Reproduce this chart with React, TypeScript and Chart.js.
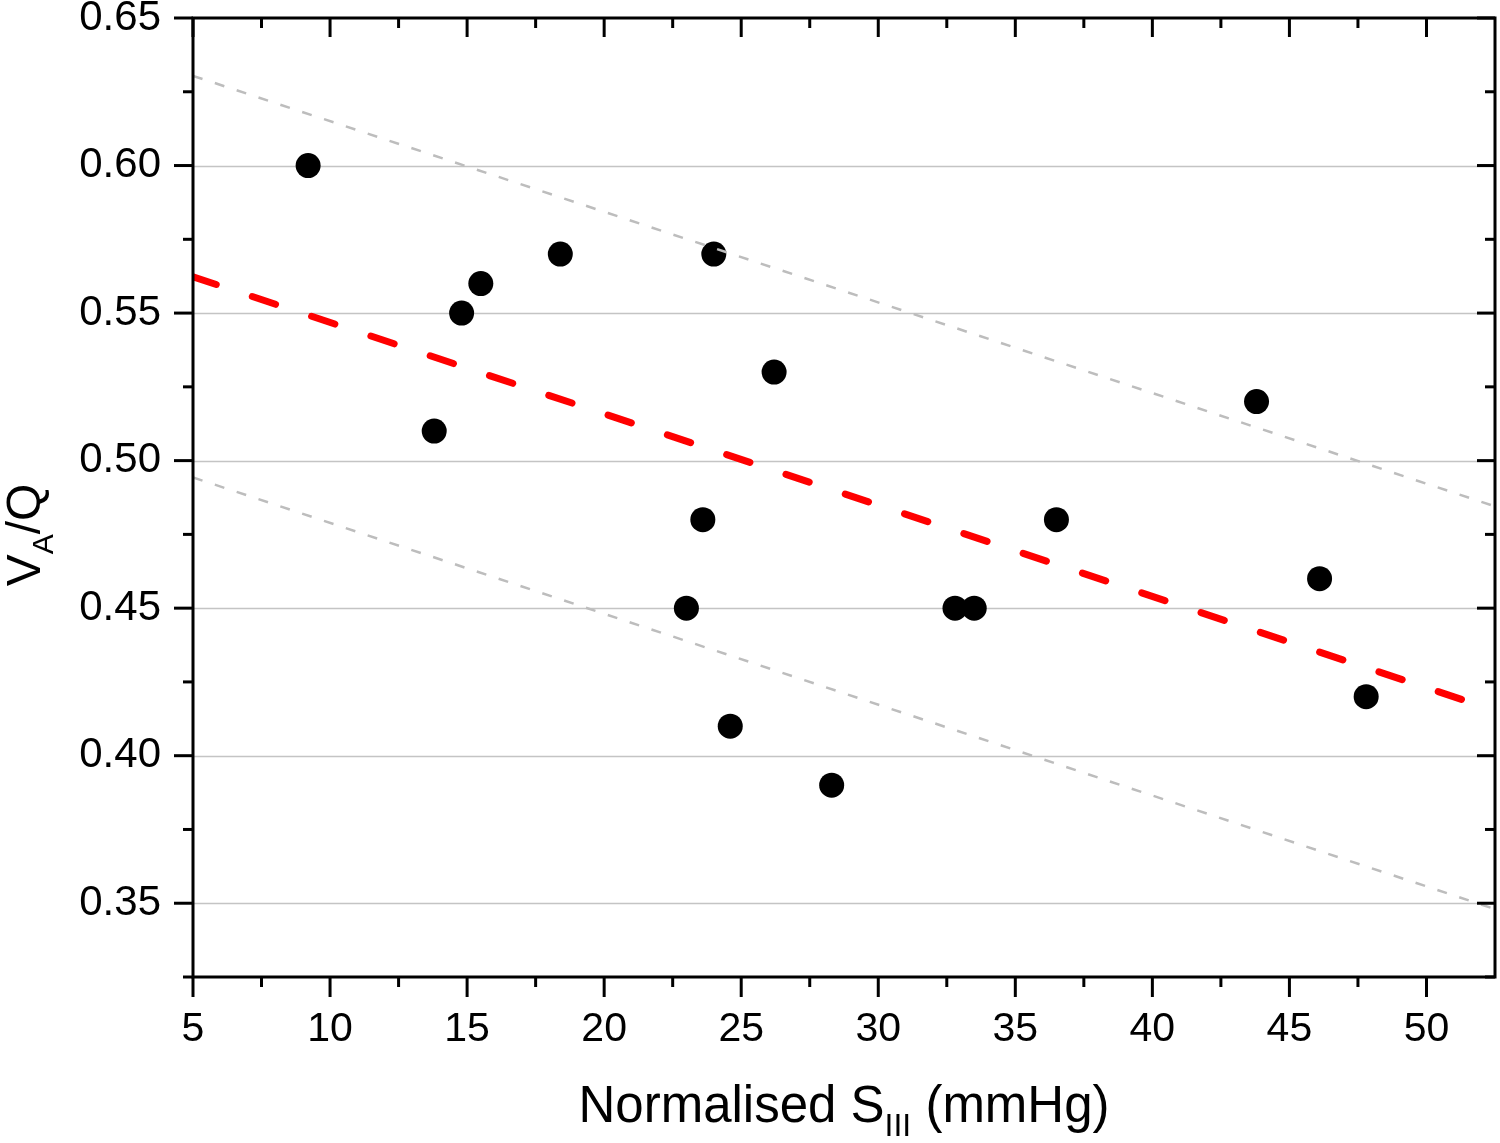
import { useEffect, useRef } from "react";
import { Chart, registerables } from "chart.js";

Chart.register(...registerables);

// measured points
const sIII = [9.2, 13.8, 14.8, 15.5, 18.4, 23.0, 23.6, 24.0, 24.6, 26.2, 28.3, 32.8, 33.5, 36.5, 43.8, 46.1, 47.8];
const vaq = [0.6, 0.51, 0.55, 0.56, 0.57, 0.45, 0.48, 0.57, 0.41, 0.53, 0.39, 0.45, 0.45, 0.48, 0.52, 0.46, 0.42];

// regression line and prediction band ends
const lineX = [5, 52.5];
const fitY = [0.5623, 0.4153];
const upperY = [0.6304, 0.4845];
const lowerY = [0.4943, 0.348];

const xTicks = [5, 10, 15, 20, 25, 30, 35, 40, 45, 50];
const yTicks = [0.35, 0.4, 0.45, 0.5, 0.55, 0.6, 0.65];
const yGrid = [0.35, 0.4, 0.45, 0.5, 0.55, 0.6];

const FONT = '"Liberation Sans", Arial, sans-serif';

type Part = { text: string; sub?: boolean };

const drawRich = (ctx: CanvasRenderingContext2D, parts: Part[], x: number, y: number, size: number) => {
  const subSize = Math.round(size * 0.62);
  let total = 0;
  for (const p of parts) {
    ctx.font = `${p.sub ? subSize : size}px ${FONT}`;
    total += ctx.measureText(p.text).width;
  }
  let cx = x - total / 2;
  ctx.textAlign = "left";
  ctx.textBaseline = "alphabetic";
  ctx.fillStyle = "#000";
  for (const p of parts) {
    ctx.font = `${p.sub ? subSize : size}px ${FONT}`;
    ctx.fillText(p.text, cx, p.sub ? y + size * 0.28 : y);
    cx += ctx.measureText(p.text).width;
  }
};

const framePlugin = {
  id: "frame",
  beforeDatasetsDraw(chart: any) {
    const { ctx, chartArea: a, scales } = chart;
    ctx.save();
    ctx.strokeStyle = "#c4c4c4";
    ctx.lineWidth = 1.5;
    for (const v of yGrid) {
      const y = Math.round(scales.y.getPixelForValue(v)) + 0.5;
      ctx.beginPath();
      ctx.moveTo(a.left, y);
      ctx.lineTo(a.right, y);
      ctx.stroke();
    }
    ctx.restore();
  },
  afterDraw(chart: any) {
    const { ctx, chartArea: a, scales } = chart;
    const xs = scales.x;
    const ys = scales.y;
    ctx.save();
    ctx.strokeStyle = "#000";
    ctx.lineWidth = 3;
    ctx.lineCap = "butt";
    ctx.strokeRect(a.left, a.top, a.right - a.left, a.bottom - a.top);

    const seg = (x1: number, y1: number, x2: number, y2: number) => {
      ctx.beginPath();
      ctx.moveTo(x1, y1);
      ctx.lineTo(x2, y2);
      ctx.stroke();
    };
    // x ticks: major every 5, minor every 2.5
    for (let v = 5; v <= 52.5; v += 2.5) {
      const major = v % 5 === 0;
      const px = xs.getPixelForValue(v);
      if (px > a.right - 2) continue;
      seg(px, a.bottom, px, a.bottom + (major ? 20 : 10));
      seg(px, a.top, px, a.top + (major ? 19 : 10));
    }
    // y ticks: major every 0.05, minor every 0.025
    for (let i = 0; i <= 13; i++) {
      const v = 0.325 + i * 0.025;
      const major = i % 2 === 1;
      const py = ys.getPixelForValue(v);
      seg(a.left - (major ? 19 : 10), py, a.left, py);
      seg(a.right - (major ? 18 : 10), py, a.right, py);
    }

    drawRich(ctx, [{ text: "Normalised S" }, { text: "III", sub: true }, { text: " (mmHg)" }], (a.left + a.right) / 2, 1122, 51);

    ctx.translate(40, 535);
    ctx.rotate(-Math.PI / 2);
    drawRich(ctx, [{ text: "V" }, { text: "A", sub: true }, { text: "/Q" }], 0, 0, 48);
    ctx.restore();
  },
};

const noPad = (s: any) => {
  s.paddingTop = 0;
  s.paddingBottom = 0;
  s.paddingLeft = 0;
  s.paddingRight = 0;
};

const App = () => {
  const canvasRef = useRef<HTMLCanvasElement | null>(null);

  useEffect(() => {
    if (!canvasRef.current) return;
    const ctx = canvasRef.current.getContext("2d");
    if (!ctx) return;

    const pts = sIII.map((x, i) => ({ x, y: vaq[i] }));
    const line = (ys: number[]) => lineX.map((x, i) => ({ x, y: ys[i] }));

    const chart = new Chart(ctx, {
      type: "scatter",
      data: {
        datasets: [
          {
            type: "line",
            data: line(upperY),
            borderColor: "#bdbdbd",
            borderWidth: 2.5,
            borderDash: [10, 13],
            pointRadius: 0,
            order: 0,
          },
          {
            type: "line",
            data: line(lowerY),
            borderColor: "#bdbdbd",
            borderWidth: 2.5,
            borderDash: [10, 13],
            pointRadius: 0,
            order: 0,
          },
          {
            data: pts,
            backgroundColor: "#000",
            borderWidth: 0,
            pointRadius: 12.5,
            order: 1,
          },
          {
            type: "line",
            data: line(fitY),
            borderColor: "#ff0000",
            borderWidth: 7,
            borderDash: [24.5, 38],
            borderCapStyle: "round",
            pointRadius: 0,
            order: 2,
          },
        ],
      },
      options: {
        animation: false,
        responsive: false,
        devicePixelRatio: 1,
        layout: { autoPadding: false, padding: { top: 18, right: 5, left: 0, bottom: 0 } },
        plugins: { legend: { display: false }, tooltip: { enabled: false } },
        scales: {
          x: {
            type: "linear",
            min: 5,
            max: 52.5,
            grid: { display: false, drawTicks: false },
            border: { display: false },
            afterFit: (s: any) => {
              s.height = 166;
              noPad(s);
            },
            afterBuildTicks: (s: any) => {
              s.ticks = xTicks.map((value) => ({ value }));
            },
            ticks: {
              padding: 28,
              color: "#000",
              font: { family: FONT, size: 41 },
              maxRotation: 0,
              autoSkip: false,
              callback: (v: any) => String(v),
            },
          },
          y: {
            type: "linear",
            min: 0.325,
            max: 0.65,
            grid: { display: false, drawTicks: false },
            border: { display: false },
            afterFit: (s: any) => {
              s.width = 193;
              noPad(s);
            },
            afterBuildTicks: (s: any) => {
              s.ticks = yTicks.map((value) => ({ value }));
            },
            ticks: {
              padding: 32,
              color: "#000",
              font: { family: FONT, size: 42 },
              autoSkip: false,
              callback: (v: any) => Number(v).toFixed(2),
            },
          },
        },
      },
      plugins: [framePlugin],
    });

    return () => {
      chart.destroy();
    };
  }, []);

  return (
    <div style={{ position: "absolute", left: 0, top: 0, width: 1500, height: 1143, background: "#fff" }}>
      <canvas ref={canvasRef} width={1500} height={1143}></canvas>
    </div>
  );
};

export default App;
